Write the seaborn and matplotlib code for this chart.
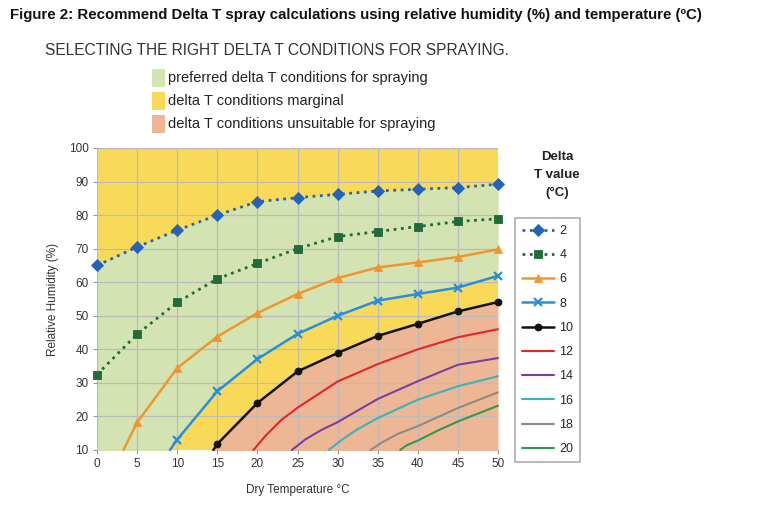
import numpy as np
import pandas as pd
import matplotlib
matplotlib.use("Agg")
import matplotlib.pyplot as plt
import seaborn as sns
from matplotlib.patches import Rectangle

# ---------------- data ----------------
dt2_x = [0, 5, 10, 15, 20, 25, 30, 35, 40, 45, 50]
dt2_y = [65, 70.5, 75.5, 80, 84, 85.2, 86.2, 87.2, 87.7, 88.2, 89.2]

dt4_x = [0, 5, 10, 15, 20, 25, 30, 35, 40, 45, 50]
dt4_y = [32.5, 44.5, 54, 61, 65.6, 70, 73.6, 75.1, 76.6, 78.1, 78.9]

dt6_x = [3.3, 5, 10, 15, 20, 25, 30, 35, 40, 45, 50]
dt6_y = [10, 18.2, 34.4, 43.8, 50.8, 56.5, 61.2, 64.4, 65.9, 67.5, 69.8]

dt8_x = [9.1, 10, 15, 20, 25, 30, 35, 40, 45, 50]
dt8_y = [10, 13.1, 27.5, 37.1, 44.6, 50, 54.5, 56.5, 58.4, 61.9]

dt10_x = [14.5, 15, 20, 25, 30, 35, 40, 45, 50]
dt10_y = [10, 11.8, 24, 33.4, 38.9, 44, 47.6, 51.3, 54.1]

dt12_x = [19.5, 21, 23, 25, 30, 35, 40, 45, 50]
dt12_y = [10, 14.2, 19, 22.6, 30.4, 35.6, 40, 43.6, 46]

dt14_x = [24.3, 26, 28, 30, 35, 40, 45, 50]
dt14_y = [10, 13.2, 16, 18.3, 25.2, 30.5, 35.4, 37.4]

dt16_x = [28.9, 30.5, 32.5, 35, 40, 45, 50]
dt16_y = [10, 13, 16.2, 19.5, 25, 29, 32]

dt18_x = [34.1, 35.5, 37.5, 40, 45, 50]
dt18_y = [10, 12.2, 14.8, 17.1, 22.5, 27.2]

dt20_x = [37.8, 38.6, 40, 42.5, 45, 50]
dt20_y = [10, 11.4, 12.8, 15.8, 18.5, 23.2]

x_ticks = [0, 5, 10, 15, 20, 25, 30, 35, 40, 45, 50]
y_ticks = [10, 20, 30, 40, 50, 60, 70, 80, 90, 100]

zone_labels = ["preferred delta T conditions for spraying",
               "delta T conditions marginal",
               "delta T conditions unsuitable for spraying"]

# ---------------- styling ----------------
C_YELLOW = "#F8DA58"
C_GREEN = "#D4E3B2"
C_SALMON = "#EDB695"

series = [
    ("2", dt2_x, dt2_y, "#2563B8", ":", "D", 6),
    ("4", dt4_x, dt4_y, "#1F6B3A", ":", "s", 6),
    ("6", dt6_x, dt6_y, "#F0962D", "-", "^", 6),
    ("8", dt8_x, dt8_y, "#2A8FD6", "-", "x", 6),
    ("10", dt10_x, dt10_y, "#111111", "-", "o", 5),
    ("12", dt12_x, dt12_y, "#E3262A", "-", None, 0),
    ("14", dt14_x, dt14_y, "#7B3FA0", "-", None, 0),
    ("16", dt16_x, dt16_y, "#3BB3B8", "-", None, 0),
    ("18", dt18_x, dt18_y, "#8E8A86", "-", None, 0),
    ("20", dt20_x, dt20_y, "#2E9A5A", "-", None, 0),
]

sns.set_theme(style="white")
plt.rcParams["font.family"] = ["Liberation Sans", "DejaVu Sans"]

fig = plt.figure(figsize=(7.68, 5.13), dpi=100)
ax = fig.add_axes([97 / 768, 1 - 450 / 513, (498 - 97) / 768, (450 - 148) / 513])
ax.set_facecolor(C_YELLOW)

# zone fills
grid = np.linspace(0, 50, 501)
up2 = np.interp(grid, dt2_x, dt2_y)
lo8 = np.interp(grid, dt8_x, dt8_y, left=0)
lo10 = np.interp(grid, dt10_x, dt10_y, left=0)
ax.fill_between(grid, lo8, up2, color=C_GREEN, lw=0, zorder=0.5)
ax.fill_between(grid, 0, lo10, color=C_SALMON, lw=0, zorder=0.5)

ax.set_xlim(0, 50)
ax.set_ylim(10, 100)
ax.set_xticks(x_ticks)
ax.set_yticks(y_ticks)
ax.grid(True, color="#BBBBBB", lw=0.9, zorder=0.8)
ax.set_axisbelow(False)
for sp in ax.spines.values():
    sp.set_visible(False)

for name, xs, ys, col, ls, mk, ms in series:
    df = pd.DataFrame({"x": xs, "y": ys})
    kw = {}
    if mk is not None:
        kw["marker"] = mk
        kw["markersize"] = ms
        kw["markevery"] = [i for i, v in enumerate(xs) if float(v) % 5 == 0]
        kw["markeredgecolor"] = col
        kw["markeredgewidth"] = 1.6 if mk == "x" else 0.6
        lw = 1.8 if ls == "-" else 2.0
    else:
        lw = 1.5
    sns.lineplot(data=df, x="x", y="y", ax=ax, color=col, linestyle=ls,
                 lw=lw, label=name, sort=False,
                 clip_on=False, zorder=3, **kw)

ax.tick_params(axis="both", which="both", length=3, width=0.8, color="#999999",
               labelsize=8.5, labelcolor="#333333", pad=3, left=True, bottom=True)
ax.set_xlabel("Dry Temperature °C", fontsize=8.5, color="#333333", labelpad=10)
ax.set_ylabel("Relative Humidity (%)", fontsize=8.5, color="#333333", labelpad=7)

handles, labels = ax.get_legend_handles_labels()
if ax.legend_:
    ax.legend_.remove()
leg = fig.legend(handles, labels, loc="upper left",
                 bbox_to_anchor=(515 / 768, 1 - 218 / 513),
                 frameon=True, fancybox=False, fontsize=9,
                 handlelength=2.6, labelspacing=0.98, borderpad=0.55,
                 handletextpad=0.4, borderaxespad=0, edgecolor="#9A9A9A")
leg.get_frame().set_linewidth(1.2)
fig.text(557 / 768, 1 - 175 / 513, "Delta\nT value\n(°C)", ha="center", va="center",
         fontsize=9.5, fontweight="bold", color="#222222", linespacing=1.65)

# titles
fig.text(10 / 768, 1 - 15 / 513,
         "Figure 2: Recommend Delta T spray calculations using relative humidity (%) and temperature (ºC)",
         fontsize=10.85, fontweight="bold", ha="left", va="center", color="#111111")
fig.text(45 / 768, 1 - 51 / 513, "SELECTING THE RIGHT DELTA T CONDITIONS FOR SPRAYING.",
         fontsize=11.2, ha="left", va="center", color="#333333")

# zone legend
zone_cols = [C_GREEN, C_YELLOW, C_SALMON]
zone_y = [78, 101, 124]
for lab, col, yy in zip(zone_labels, zone_cols, zone_y):
    fig.patches.append(Rectangle((152 / 768, 1 - (yy + 9) / 513), 13 / 768, 18 / 513,
                                 transform=fig.transFigure, facecolor=col, edgecolor="none"))
    fig.text(168 / 768, 1 - yy / 513, lab, fontsize=10.5, ha="left", va="center", color="#222222")

fig.savefig("out.png", dpi=100)
